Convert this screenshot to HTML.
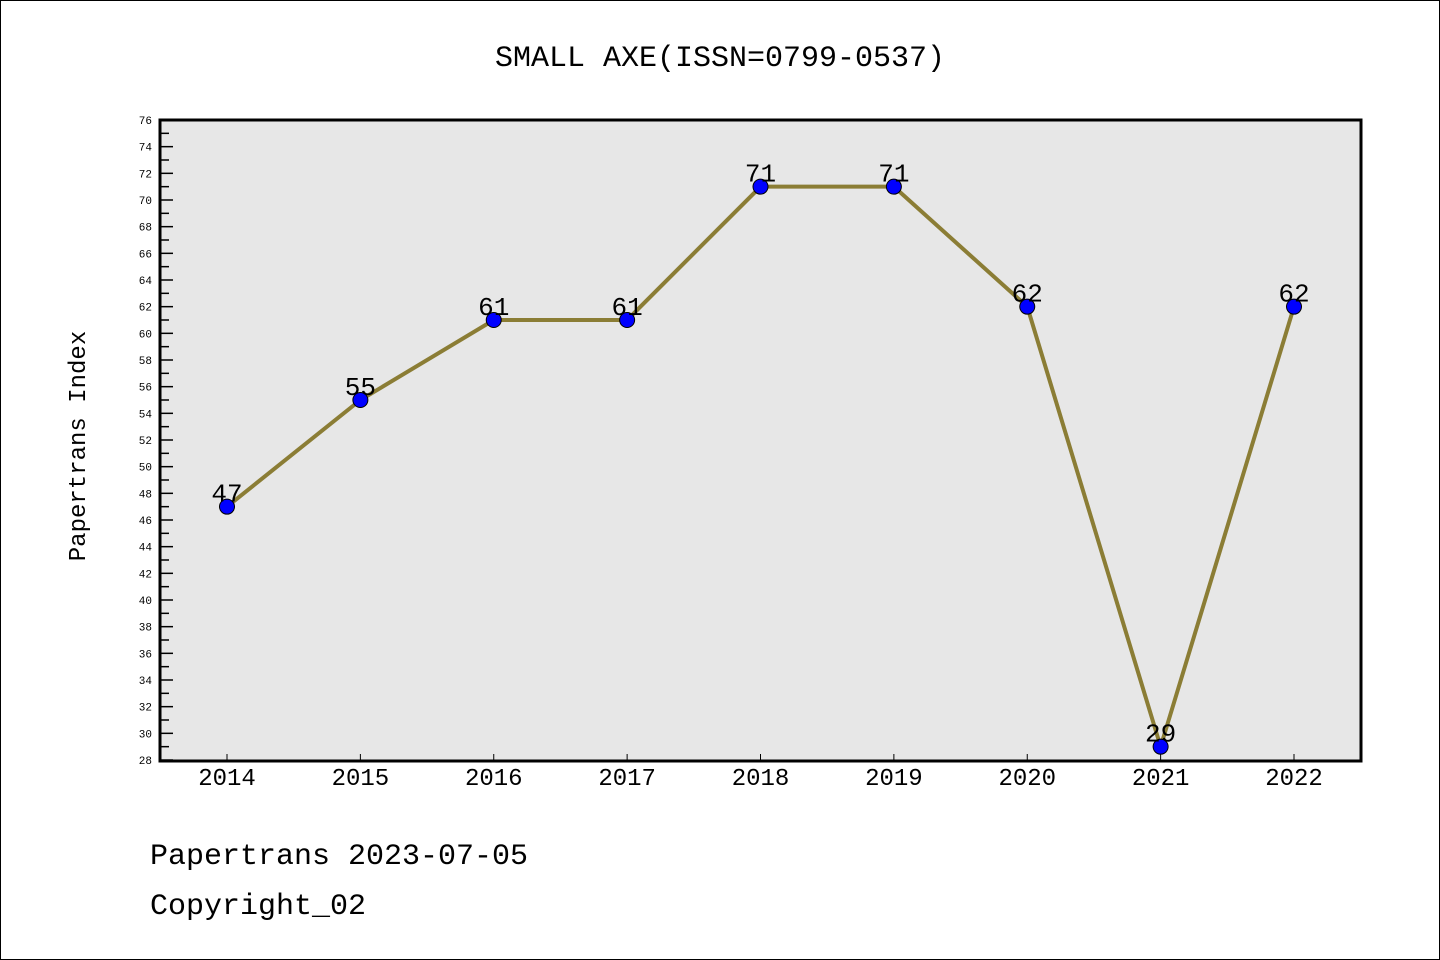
<!DOCTYPE html>
<html><head><meta charset="utf-8"><style>
body{margin:0;background:#fff}
svg{display:block}
text{font-family:"Liberation Mono","DejaVu Sans Mono",monospace}
</style></head><body>
<svg id="chart" width="1440" height="960" xmlns="http://www.w3.org/2000/svg">
<rect x="0.5" y="0.5" width="1439" height="959" fill="#fff" stroke="#000"/>
<text x="720" y="66" text-anchor="middle" font-size="30">SMALL AXE(ISSN=0799-0537)</text>
<rect x="160" y="120" width="1201" height="641" fill="#e7e7e7"/>
<g id="yaxis"></g>
<g id="xaxis"></g>
<g id="series"></g>
<rect x="160" y="120" width="1201" height="641" fill="none" stroke="#000" stroke-width="3"/>
<text x="85" y="446" text-anchor="middle" font-size="24" transform="rotate(-90 85 446)">Papertrans Index</text>
<text x="150" y="864" font-size="30">Papertrans 2023-07-05</text>
<text x="150" y="914" font-size="30">Copyright_02</text>
</svg>
<script>
const categories=["2014","2015","2016","2017","2018","2019","2020","2021","2022"];
const values=[47,55,61,61,71,71,62,29,62];
const yMin=28,yMax=76;
const NS="http://www.w3.org/2000/svg";
const x=i=>227+i*(1294-227)/(categories.length-1);
const y=v=>760-(v-yMin)/(yMax-yMin)*640;
function mk(tag,attrs,parent){const e=document.createElementNS(NS,tag);for(const k in attrs)e.setAttribute(k,attrs[k]);parent.appendChild(e);return e;}
const ya=document.getElementById('yaxis'),xa=document.getElementById('xaxis'),sg=document.getElementById('series');
for(let v=yMin;v<=yMax;v++){
  const major=(v%2===0);
  const t=mk('line',{x1:160,x2:160+(major?13:9),y1:y(v),y2:y(v),stroke:'#000','stroke-width':1.5},ya);
  
  
  if(major){
    const l=mk('text',{x:152,y:y(v)+4,'text-anchor':'end','font-size':11,'font-family':'Liberation Sans, sans-serif'},ya);
    
    
    l.textContent=v;
  }
}
categories.forEach((c,i)=>{
  const t=mk('line',{x1:x(i),x2:x(i),y1:760,y2:754,stroke:'#000','stroke-width':1},xa);
  
  
  const l=mk('text',{x:x(i),y:785,'text-anchor':'middle','font-size':24,'font-family':'Liberation Sans, sans-serif'},xa);
  
  
  l.textContent=c;
});
const line=mk('polyline',{points:values.map((v,i)=>x(i)+','+y(v)).join(' '),fill:'none',stroke:'#8b7d35','stroke-width':4},sg);


values.forEach((v,i)=>{
  const p=mk('circle',{cx:x(i),cy:y(v),r:7.5,fill:'#0000ff',stroke:'#000','stroke-width':1},sg);
  
  
  const l=mk('text',{x:x(i),y:y(v)-5,'text-anchor':'middle','font-size':26,'font-family':'Liberation Sans, sans-serif'},sg);
  
  
  l.textContent=v;
});
</script>
</body></html>
